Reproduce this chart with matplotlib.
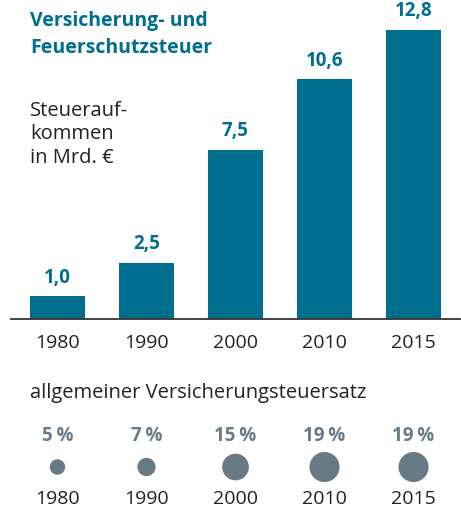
import numpy as np
import matplotlib.pyplot as plt

# data
years = ['1980', '1990', '2000', '2010', '2015']
revenue = [1.0, 2.5, 7.5, 10.6, 12.8]          # Mrd. Euro
tax_rate = [5, 7, 15, 19, 19]                   # percent

BAR_COL = '#006e8f'
DOT_COL = '#677b87'
TXT_COL = '#222222'

plt.rcParams['font.family'] = ['Open Sans', 'DejaVu Sans']

W, H = 461, 507
fig = plt.figure(figsize=(W / 100, H / 100), dpi=100)

x = np.arange(len(years))
xlim = (-0.522, 4.522)

# bar chart, baseline at y=319 px
base = 319
ax = fig.add_axes([11 / W, (H - base) / H, 449 / W, 312 / H])
ax.bar(x, revenue, width=0.618, color=BAR_COL, zorder=2)
ax.set_xlim(*xlim)
ax.set_ylim(0, 312 / 22.6)
for s in ['top', 'left', 'right']:
    ax.spines[s].set_visible(False)
ax.spines['bottom'].set_color('#333333')
ax.spines['bottom'].set_linewidth(1.3)
ax.set_yticks([])
ax.set_xticks(x)
ax.set_xticklabels(years, fontsize=14, color=TXT_COL)
ax.tick_params(axis='x', length=0, pad=11)
for xi, v in zip(x, revenue):
    ax.annotate(f'{v:.1f}'.replace('.', ','), (xi, v), xytext=(0, 6),
                textcoords='offset points', ha='center', va='bottom',
                fontsize=13.5, fontweight='bold', color=BAR_COL,
                annotation_clip=False)

# titles
fig.text(30 / W, 1 - 11 / H, 'Versicherung- und\nFeuerschutzsteuer',
         ha='left', va='top', fontsize=14, fontweight='bold',
         color=BAR_COL, linespacing=1.45)
fig.text(30 / W, 1 - 101 / H, 'Steuerauf-\nkommen\nin Mrd. €',
         ha='left', va='top', fontsize=14.5, color=TXT_COL, linespacing=1.22)

# tax rate circles (y in image pixels)
fig.text(30 / W, 1 - 393 / H, 'allgemeiner Versicherungsteuersatz',
         ha='left', va='center', fontsize=14.5, color=TXT_COL)
ax2 = fig.add_axes([11 / W, 0, 449 / W, 130 / H])
ax2.set_xlim(*xlim)
ax2.set_ylim(H, H - 130)
ax2.axis('off')
ax2.scatter(x, [467] * len(x), s=[r * 24.7 for r in tax_rate],
            color=DOT_COL, edgecolors='none')
for xi, r, yr in zip(x, tax_rate, years):
    ax2.text(xi, 436, f'{r}\u2009%', ha='center', va='center', fontsize=13.5,
             fontweight='bold', color=DOT_COL)
    ax2.text(xi, 499, yr, ha='center', va='center', fontsize=14,
             color=TXT_COL)

fig.savefig('out.png', dpi=100)
